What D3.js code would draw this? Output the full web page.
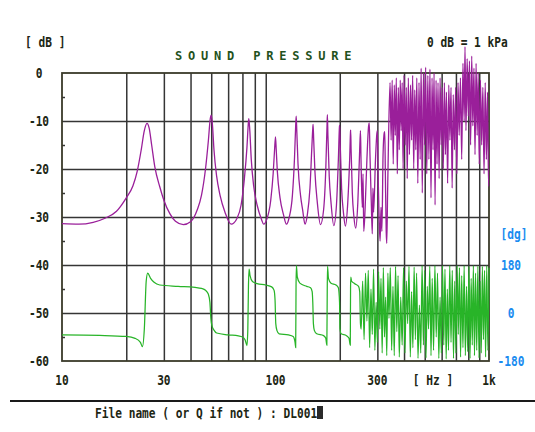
<!DOCTYPE html>
<html>
<head>
<meta charset="utf-8">
<script src="https://cdn.jsdelivr.net/npm/d3@7"></script>
<style>
  body { margin: 0; background: #fff; }
  svg { display: block; }
</style>
</head>
<body>
<svg width="535" height="432"></svg>
<script>
// grid lines / labels
const gridHz = [20, 30, 40, 50, 60, 70, 80, 90, 200, 300, 400, 500, 600, 700, 800, 900];
const hzLabels = [[10, "10"], [30, "30"], [100, "100"], [300, "300"], [1000, "1k"]];
const dbTicks = [0, -10, -20, -30, -40, -50, -60];
const dbMinor = [-5, -15, -25, -35, -45, -55];
const phaseTicks = [180, 0, -180];

// sound pressure level [Hz, dB]
const levelCurve = [
  [10, -31.4], [12, -31.5], [14, -31.1], [16, -30.2], [18, -28.8], [20, -26], [21.5, -23.5],
  [22.5, -20.5], [23.5, -16], [24.3, -12], [25, -10.5], [25.6, -11.5], [26.3, -15], [27.2, -19.5],
  [28.7, -23.7], [30, -26.5], [32, -29.3], [34, -30.9], [37, -31.6], [40, -31], [43, -28.5],
  [45, -25.5], [47, -20], [48.5, -14], [49.5, -9.5], [50, -8.8], [50.7, -11], [51.5, -16],
  [53, -21.5], [55, -25.5], [58, -29], [62, -31.5], [66, -30.3], [69, -27.5], [71.5, -22],
  [73.5, -15.5], [74.6, -10.5], [75, -9.5], [75.8, -12], [77, -18], [79, -23.5], [82, -27.5],
  [86, -30.5], [88, -31.5], [91, -30.5], [95, -26.5], [97.5, -21], [99, -16], [100, -13.3],
  [100.8, -16], [102, -20.5], [105, -26], [109, -29.5], [112.5, -31.5], [116, -30], [120, -25.5],
  [122.8, -17.5], [124.3, -11], [125, -9], [125.8, -12], [127.5, -19], [131, -25.5], [134, -28.5],
  [137.5, -31.5], [141, -29.5], [145, -24], [148, -15.5], [149.5, -11.5], [150, -10.7], [151, -14],
  [153, -20.5], [157, -27], [162.5, -31.6], [168, -28.5], [172, -20], [174.3, -11], [175, -8.7],
  [176, -13], [178.5, -21.5], [182, -27], [187.5, -31.8], [193, -27.5], [197, -18], [199.5, -11],
  [200, -10.9], [201, -15], [204, -24], [208, -29], [212.5, -31.9], [218, -27], [222.5, -18],
  [224.8, -12], [225, -11.9], [226, -16], [229, -25], [233, -30], [237.5, -32.3], [243, -27],
  [247.5, -17], [250, -12], [251.5, -18], [255, -28], [257, -21], [259, -33], [263, -28],
  [268, -18], [273, -11], [275, -10.4], [277, -17], [281, -27], [284, -33.5], [286, -24],
  [288, -29], [294, -18], [298.5, -12.5], [300, -12], [302, -20], [306, -31], [309, -35],
  [312, -28], [315, -33], [319, -17], [323, -12.5], [325, -12.2], [327, -21], [330, -33],
  [332, -35.5], [335, -25], [338, -15],
  [344, -2], [348, -14], [352, -1.5], [356, -19], [360, -2.5], [364, -13], [368, -1], [372, -21],
  [376, -3], [380, -16], [384, -1.5], [388, -12], [392, -2], [396, -20], [400, -0.5], [405, -15],
  [410, -3], [414, -22], [419, -1], [424, -17], [429, -2.5], [434, -14], [439, -0.5], [444, -20],
  [449, -3.5], [454, -16], [459, -1], [464, -23], [470, -2], [476, -18], [481, 1], [487, -25],
  [493, 0], [499, -15], [505, 1.2], [511, -21], [517, -0.5], [523, -18], [529, 0.8], [535, -26],
  [541, -1], [547, -16], [553, 0], [559, -27.5], [565, -1.5], [571, -19], [577, -2], [584, -22],
  [590, -1], [597, -15], [604, -3], [611, -20], [618, -2], [625, -17], [632, -4], [640, -23],
  [648, -2.5], [656, -14], [664, -3], [672, -24], [680, -4.5], [689, -16], [698, -3], [707, -21],
  [716, -2], [725, -13], [735, -1], [745, -18], [755, 2], [765, -10], [772, 5.5], [780, -12],
  [790, 3], [800, -9], [810, 2.5], [820, -15], [830, 3.5], [840, -11], [850, 1], [860, -17],
  [870, 2], [880, -13], [890, 0], [900, -19], [912, -1.5], [924, -15], [936, -3], [948, -21],
  [960, -2], [972, -18], [984, -4], [995, -23.5], [1000, -23.5]
];

// phase [Hz, degrees]
const phaseCurve = [
  [10, -82], [15, -84], [20, -88], [22, -95], [23.3, -110], [23.8, -126], [24.3, -60], [24.8, 120],
  [25.2, 150], [26, 130], [27, 115], [28.7, 105], [35, 100], [42, 96], [45, 92], [47, 85],
  [48.5, 70], [49.3, 40], [49.8, -20], [50.5, -50], [51.5, -64], [53, -75], [60, -82], [67, -86],
  [70, -90], [72, -100], [73.5, -122], [74.2, -60], [74.7, 100], [75.2, 165], [76, 140], [78, 118],
  [82, 110], [90, 105], [96, 98], [98.5, 85], [99.5, 50], [100.3, -40], [101.5, -65], [104, -78],
  [115, -82], [121, -88], [123.5, -110], [124.3, -130], [124.8, 100], [125.3, 178], [126.5, 135],
  [130, 112], [140, 100], [146, 95], [148.5, 80], [149.5, 40], [150.5, -40], [152, -65], [156, -78],
  [168, -85], [172, -95], [174, -120], [174.7, 80], [175.3, 175], [177, 130], [182, 112], [192, 105],
  [197, 95], [199.5, 40], [200.5, -60], [203, -78], [215, -85], [221, -95], [224, -120], [224.7, 100],
  [225.4, 135], [227, 120], [235, 110], [245, 100], [248, 80], [250, -40],
  [252, -60], [256, 120], [260, -100], [264, 150], [268, -30], [272, 160], [276, -130], [280, 90],
  [284, -80], [288, 165], [292, -140], [296, 40], [300, -110], [304, 155], [308, -60], [312, 130],
  [316, -150], [320, 170], [324, -90], [328, 60], [332, -160], [336, 150], [340, -20], [345, 170],
  [350, -140], [355, 100], [360, -160], [365, 175], [370, -70], [375, 140], [380, -165], [386, 60],
  [392, -120], [398, 170], [404, -150], [410, 120], [416, -40], [422, 175], [428, -165], [434, 80],
  [440, -130], [446, 172], [452, -100], [458, 150], [465, -170], [472, 30], [479, -150], [486, 178],
  [493, -120], [500, 160], [507, -168], [514, 100], [521, -60], [528, 176], [535, -160], [542, 130],
  [550, -140], [558, 178], [566, -90], [574, 150], [582, -170], [590, 60], [598, -150], [606, 178],
  [614, -120], [622, 165], [630, -172], [638, 90], [646, -140], [655, 178], [664, -110], [673, 160],
  [682, -170], [691, 120], [700, -150], [709, 178], [718, -80], [727, 170], [736, -165], [745, 140],
  [755, -130], [765, 178], [775, -160], [785, 100], [795, -145], [805, 175], [815, -170], [825, 130],
  [835, -120], [845, 178], [855, -160], [865, 150], [876, -140], [887, 176], [898, -168], [909, 120],
  [920, -150], [931, 175], [942, -100], [953, 160], [964, -165], [976, 178], [988, -140], [1000, 170]
];

const svg = d3.select("svg");
const mono = "'DejaVu Sans Mono', monospace";
const ink = "#1d2614";
const margin = { top: 73, left: 62, bottom: 361, right: 489 };

const x = d3.scaleLog().domain([10, 1000]).range([margin.left, margin.right]);
const y = d3.scaleLinear().domain([-60, 0]).range([margin.bottom, margin.top]);
const yPhase = d3.scaleLinear().domain([-180, 180]).range([y(-60), y(-40)]);

// squeezed DOS-like text
const label = (txt, px, py, anchor, color, size = 14, sx = 0.8) =>
  svg.append("text")
    .attr("transform", `translate(${px},${py}) scale(${sx},1)`)
    .attr("text-anchor", anchor)
    .attr("font-family", mono)
    .attr("font-weight", "bold")
    .attr("font-size", size)
    .attr("fill", color)
    .text(txt);

// grid
const grid = svg.append("g").attr("class", "grid");
grid.append("g")
  .attr("transform", `translate(0,${margin.bottom})`)
  .call(d3.axisBottom(x).tickValues(gridHz).tickSize(-(margin.bottom - margin.top)).tickFormat(""));
grid.append("g")
  .attr("transform", `translate(${margin.left},0)`)
  .call(d3.axisLeft(y).tickValues(dbTicks.slice(1, -1)).tickSize(-(margin.right - margin.left)).tickFormat(""));
grid.append("g")
  .attr("transform", `translate(${margin.left},0)`)
  .call(d3.axisLeft(y).tickValues(dbMinor).tickSize(-3).tickFormat(""));
grid.selectAll(".domain").remove();
grid.selectAll(".tick line").attr("stroke", "#353535").attr("stroke-width", 1.5);

svg.append("rect")
  .attr("x", margin.left).attr("y", margin.top)
  .attr("width", margin.right - margin.left).attr("height", margin.bottom - margin.top)
  .attr("fill", "none").attr("stroke", "#3a3a2a").attr("stroke-width", 1.8);

// curves
const line = d3.line().curve(d3.curveMonotoneX);

svg.append("path")
  .attr("d", line.x((d) => x(d[0])).y((d) => yPhase(d[1]))(phaseCurve))
  .attr("fill", "none")
  .attr("stroke", "#28b428")
  .attr("stroke-width", 1.25);

svg.append("path")
  .attr("d", line.x((d) => x(d[0])).y((d) => y(d[1]))(levelCurve))
  .attr("fill", "none")
  .attr("stroke", "#9a1f9a")
  .attr("stroke-width", 1.3);

// texts
dbTicks.forEach((v) => label(v === 0 ? "0" : String(v), 39, y(v) + 5, "middle", ink));
hzLabels.forEach(([hz, t]) => label(t, x(hz), 385, "middle", ink));
label("[ Hz ]", 433, 385, "middle", ink);
phaseTicks.forEach((v) => label(String(v), 511, yPhase(v) + 5, "middle", "#1a8cf0"));
label("[dg]", 514, 239, "middle", "#1a8cf0");
label("[ dB ]", 25, 47, "start", ink);
label("0 dB = 1 kPa", 427, 47, "start", ink);

svg.append("text")
  .attr("x", 175).attr("y", 60)
  .attr("font-family", mono).attr("font-weight", "bold").attr("font-size", 12)
  .attr("letter-spacing", 5.8)
  .attr("fill", "#1f5220")
  .text("SOUND PRESSURE");

// prompt line
svg.append("line")
  .attr("x1", 10).attr("x2", 535).attr("y1", 401).attr("y2", 401)
  .attr("stroke", "#1a1a1a").attr("stroke-width", 2);
label("File name ( or Q if not ) : DL001", 95, 418, "start", ink);
svg.append("rect")
  .attr("x", 317).attr("y", 406).attr("width", 6).attr("height", 13)
  .attr("fill", "#2a2a2a");
</script>
</body>
</html>
